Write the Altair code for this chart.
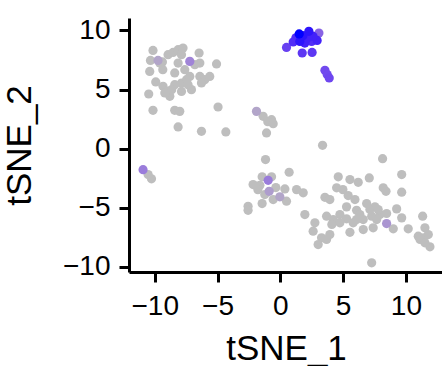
import altair as alt
import pandas as pd

# tSNE coordinates and expression level (0 = grey, 1 = blue)
tsne_1 = [
    # top-left grey cluster
    -10.14, -10.34, -9.74, -9.39, -8.94, -8.54, -8.14, -7.75, -7.87, -7.21,
    -6.47, -6.41, -5.08, -10.40, -9.92, -9.34, -9.07, -8.80, -9.20, -10.48,
    -8.41, -7.87, -7.87, -7.47, -7.21, -6.41, -6.02, -5.62, -6.28, -10.14,
    -8.41, -8.01, -4.96, -8.14, -6.28, -4.34, -7.08, -9.60, -7.35, -8.14,
    -9.36, -6.81, -7.61, -8.41, -8.65,
    # small middle-upper group
    -1.90, -1.37, -0.70, -1.00, -0.57, -1.10,
    # small left group
    -10.93, -10.53, -10.26,
    # middle-lower cluster
    -1.18, 0.70, -0.97, -1.45, -0.70, -2.17, -1.63, -0.89, -0.57, -0.04,
    0.49, 0.36, 1.29, 1.82, -2.57, -2.57, -1.45, 1.95, 3.36, -1.79,
    -0.36, -1.24,
    # lower-right cluster
    8.14, 9.66, 4.61, 5.54, 6.20, 7.08, 4.48, 5.40, 3.55, 3.94,
    8.19, 8.41, 9.66, 6.87, 7.53, 5.27, 6.07, 4.74, 3.68, 4.21,
    5.27, 6.60, 7.27, 7.93, 8.46, 9.26, 9.66, 8.46, 8.99, 10.18,
    2.75, 2.61, 3.28, 3.94, 3.01, 3.68, 5.54, 6.60, 7.39, 7.67,
    6.07, 5.80, 4.74, 7.27, 11.33, 11.51, 10.98, 11.38, 11.78, 11.91,
    11.12, 11.51, 7.13, 7.79, 4.98, 5.94, 6.33, 4.10,
    # blue cluster
    1.50, 2.27, 3.07, 1.02, 1.55, 1.95, 2.49, 2.93, 2.61, 0.49,
    1.74, 2.53, 3.55, 3.73, 3.89, 1.79, 2.19, 1.24,
]
tsne_2 = [
    8.31, 7.46, 7.46, 7.33, 7.95, 8.14, 8.37, 8.51, 7.95, 7.38,
    8.09, 7.24, 7.16, 6.53, 5.64, 5.27, 4.84, 4.42, 4.71, 4.62,
    6.40, 5.55, 4.84, 5.83, 6.11, 6.11, 5.83, 6.11, 5.55, 3.24,
    3.24, 3.15, 3.52, 1.83, 1.46, 1.41, 4.99, 7.24, 5.41, 7.24,
    6.68, 7.10, 6.68, 5.41, 4.99,
    3.15, 2.73, 2.45, 2.28, 2.11, 1.33,
    -1.78, -2.20, -2.56,
    -0.93, -2.00, -2.68, -2.39, -2.39, -3.04, -3.10, -3.61, -4.31, -4.08,
    -4.45, -3.41, -3.47, -3.74, -4.88, -5.22, -4.65, -5.58, 0.28, -3.47,
    -3.30, -3.89,
    -0.85, -2.20, -2.39, -2.62, -2.85, -2.48, -3.32, -3.97, -4.12, -4.31,
    -3.32, -3.61, -3.69, -4.65, -4.93, -4.93, -5.22, -5.58, -5.72, -6.00,
    -5.94, -6.00, -5.72, -5.58, -5.49, -5.10, -5.86, -6.34, -6.79, -6.79,
    -6.28, -6.99, -7.55, -7.27, -8.12, -7.69, -7.08, -6.85, -6.70, -6.00,
    -6.00, -6.28, -6.28, -9.66, -5.72, -6.70, -7.41, -7.55, -7.27, -8.31,
    -7.69, -7.97, -5.16, -5.16, -3.47, -4.31, -5.58, -6.42,
    9.70, 9.92, 9.78, 9.02, 9.07, 8.93, 9.07, 9.15, 9.49, 8.56,
    8.09, 8.14, 6.62, 6.26, 5.98, 9.55, 9.38, 9.38,
]
expression = [
    0, 0, 0.15, 0, 0, 0, 0, 0, 0, 0.35,
    0, 0, 0, 0, 0, 0, 0, 0, 0, 0,
    0, 0, 0, 0, 0, 0, 0, 0, 0, 0,
    0, 0, 0, 0, 0, 0, 0, 0, 0, 0,
    0, 0, 0, 0, 0,
    0.15, 0, 0, 0, 0, 0,
    0.4, 0, 0,
    0, 0, 0.4, 0, 0, 0, 0, 0.2, 0, 0.15,
    0, 0, 0, 0, 0, 0, 0, 0, 0, 0,
    0, 0,
    0, 0, 0, 0, 0, 0, 0, 0, 0, 0,
    0, 0, 0, 0, 0, 0, 0, 0, 0, 0,
    0, 0, 0, 0, 0, 0, 0, 0.25, 0, 0,
    0, 0, 0, 0, 0, 0, 0, 0, 0, 0,
    0, 0, 0, 0, 0, 0, 0, 0, 0, 0,
    0, 0, 0, 0, 0, 0, 0, 0,
    1.0, 0.95, 0.55, 0.85, 0.95, 0.9, 0.85, 0.9, 0.9, 0.75,
    0.8, 0.8, 0.7, 0.7, 0.72, 0.95, 0.9, 0.85,
]

df = pd.DataFrame({"tSNE_1": tsne_1, "tSNE_2": tsne_2, "expr": expression})

FONT = "Liberation Sans"

chart = (
    alt.Chart(df)
    .mark_circle(size=85, opacity=1)
    .encode(
        x=alt.X(
            "tSNE_1:Q",
            scale=alt.Scale(domain=[-12.05, 12.87], nice=False, zero=False),
            axis=alt.Axis(
                values=[-10, -5, 0, 5, 10],
                title="tSNE_1",
                grid=False,
                titleX=157,
                titleY=87,
                titleBaseline="alphabetic",
                titleAnchor="middle",
                labelPadding=10,
            ),
        ),
        y=alt.Y(
            "tSNE_2:Q",
            scale=alt.Scale(domain=[-10.44, 11.05], nice=False, zero=False),
            axis=alt.Axis(
                values=[-10, -5, 0, 5, 10],
                title="tSNE_2",
                grid=False,
                titleX=-99,
                titleY=127,
                titleBaseline="alphabetic",
                titleAngle=270,
                titleAlign="center",
                labelPadding=9,
            ),
        ),
        color=alt.Color(
            "expr:Q",
            scale=alt.Scale(domain=[0, 1], range=["#BEBEBE", "#0000FF"], interpolate="lab"),
            legend=None,
        ),
        order=alt.Order("expr:Q", sort="ascending"),
    )
    .properties(
        width=313,
        height=254,
        autosize=alt.AutoSizeParams(type="none"),
        padding={"left": 129, "top": 18, "right": 0, "bottom": 94},
        title=alt.TitleParams(
            text="Ppy",
            font=FONT,
            fontSize=36,
            fontWeight="bold",
            fontStyle="italic",
            baseline="bottom",
            frame="group",
            offset=-8,
            dx=-12,
            anchor="middle",
            color="black",
        ),
    )
    .configure_view(stroke=None)
    .configure_axis(
        domainColor="black",
        domainWidth=3,
        tickColor="black",
        tickWidth=3,
        tickSize=10,
        labelFont=FONT,
        labelFontSize=28,
        labelColor="black",
        titleFont=FONT,
        titleFontSize=35,
        titleFontWeight="normal",
        titleColor="black",
    )
)

chart.save("out.html", embed_options={"renderer": "svg", "actions": False})
